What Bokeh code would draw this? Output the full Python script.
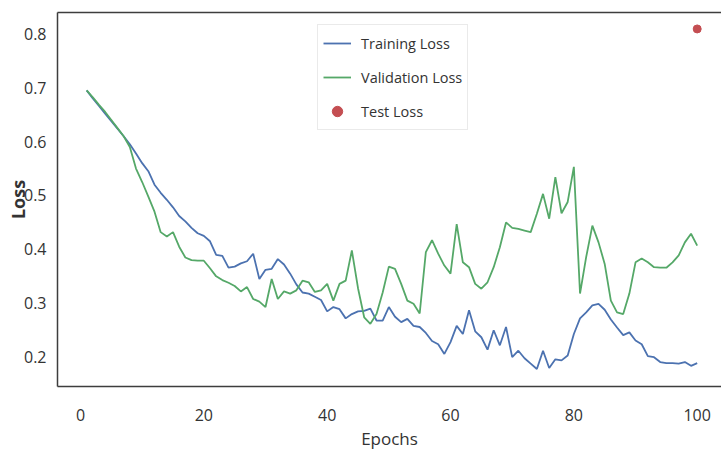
import numpy as np
from bokeh.plotting import figure
from bokeh.models import Range1d, FixedTicker, LinearAxis, Legend, LegendItem
from bokeh.embed import file_html
from bokeh.resources import INLINE

# ---------------- data ----------------
epochs = list(range(1, 101))

training_loss = [
    0.695, 0.680, 0.666, 0.652, 0.638, 0.624, 0.610, 0.595, 0.578, 0.560,
    0.545, 0.520, 0.505, 0.492, 0.478, 0.462, 0.452, 0.440, 0.430, 0.425,
    0.415, 0.390, 0.388, 0.366, 0.368, 0.374, 0.378, 0.392, 0.345, 0.362,
    0.364, 0.382, 0.372, 0.355, 0.335, 0.320, 0.318, 0.312, 0.306, 0.285,
    0.293, 0.289, 0.272, 0.280, 0.285, 0.286, 0.290, 0.268, 0.268, 0.293,
    0.275, 0.265, 0.271, 0.258, 0.256, 0.245, 0.230, 0.224, 0.206, 0.228,
    0.258, 0.243, 0.287, 0.248, 0.237, 0.214, 0.250, 0.222, 0.256, 0.200,
    0.212, 0.198, 0.188, 0.178, 0.212, 0.180, 0.196, 0.194, 0.203, 0.243,
    0.272, 0.283, 0.296, 0.299, 0.288, 0.270, 0.255, 0.241, 0.246, 0.231,
    0.224, 0.202, 0.200, 0.191, 0.189, 0.189, 0.188, 0.191, 0.184, 0.189,
]

validation_loss = [
    0.695, 0.682, 0.668, 0.655, 0.640, 0.625, 0.610, 0.590, 0.550, 0.525,
    0.498, 0.470, 0.432, 0.424, 0.432, 0.405, 0.385, 0.380, 0.379, 0.379,
    0.365, 0.350, 0.343, 0.338, 0.332, 0.322, 0.330, 0.308, 0.303, 0.293,
    0.345, 0.308, 0.322, 0.318, 0.324, 0.342, 0.339, 0.321, 0.324, 0.336,
    0.305, 0.336, 0.342, 0.398, 0.328, 0.274, 0.262, 0.280, 0.320, 0.368,
    0.364, 0.336, 0.305, 0.299, 0.281, 0.395, 0.417, 0.392, 0.370, 0.355,
    0.447, 0.376, 0.367, 0.336, 0.327, 0.339, 0.367, 0.404, 0.450, 0.440,
    0.438, 0.435, 0.432, 0.466, 0.503, 0.457, 0.534, 0.467, 0.488, 0.553,
    0.318, 0.386, 0.444, 0.413, 0.373, 0.305, 0.283, 0.280, 0.318, 0.376,
    0.383, 0.376, 0.367, 0.366, 0.366, 0.376, 0.389, 0.413, 0.429, 0.407,
]

test_epoch = [100]
test_loss = [0.809]

x_ticks = [0, 20, 40, 60, 80, 100]
y_ticks = [0.2, 0.3, 0.4, 0.5, 0.6, 0.7, 0.8]

# ---------------- figure ----------------
FONT = "Open Sans"
TXT = "#333333"
SPINE = "#3d3d3d"

p = figure(width=721, height=457, output_backend="svg", toolbar_location=None,
           x_range=Range1d(-3.73, 103.94), y_range=Range1d(0.1456, 0.8395),
           min_border_left=57, min_border_right=0, min_border_top=12,
           min_border_bottom=71)
p.outline_line_color = None
p.xgrid.grid_line_color = None
p.ygrid.grid_line_color = None
p.background_fill_color = "white"

p.xaxis.ticker = FixedTicker(ticks=x_ticks)
p.yaxis.ticker = FixedTicker(ticks=y_ticks)

for ax in (p.xaxis[0], p.yaxis[0]):
    ax.major_tick_line_color = None
    ax.minor_tick_line_color = None
    ax.major_tick_out = 0
    ax.minor_tick_out = 0
    ax.major_tick_in = 0
    ax.minor_tick_in = 0
    ax.axis_line_color = SPINE
    ax.axis_line_width = 1.5
    ax.major_label_text_font = FONT
    ax.major_label_text_font_size = "16px"
    ax.major_label_text_color = TXT

p.xaxis.major_label_standoff = 22
p.yaxis.major_label_standoff = 11

p.xaxis.axis_label = "Epochs"
p.xaxis.axis_label_text_font = FONT
p.xaxis.axis_label_text_font_size = "17px"
p.xaxis.axis_label_text_font_style = "normal"
p.xaxis.axis_label_text_color = TXT
p.xaxis.axis_label_standoff = 3

p.yaxis.axis_label = "Loss"
p.yaxis.axis_label_text_font = FONT
p.yaxis.axis_label_text_font_size = "18px"
p.yaxis.axis_label_text_font_style = "bold"
p.yaxis.axis_label_text_color = TXT
p.yaxis.axis_label_standoff = -9

# top spine
top = LinearAxis(ticker=FixedTicker(ticks=[]), major_tick_out=0, major_tick_in=0,
                 minor_tick_out=0, minor_tick_in=0, major_label_standoff=0,
                 axis_label_standoff=0, axis_line_color=SPINE, axis_line_width=1.5,
                 major_label_text_font_size="0px")
p.add_layout(top, "above")

# ---------------- data glyphs ----------------
r1 = p.line(epochs, training_loss, line_color="#4C72B0", line_width=1.8)
r2 = p.line(epochs, validation_loss, line_color="#55A868", line_width=1.8)
r3 = p.scatter(test_epoch, test_loss, size=8, fill_color="#C44E52",
               line_color="#C44E52")

legend = Legend(items=[LegendItem(label="Training Loss", renderers=[r1]),
                       LegendItem(label="Validation Loss", renderers=[r2]),
                       LegendItem(label="Test Loss", renderers=[r3])],
                location=(260, 256))
legend.label_text_font = FONT
legend.label_text_font_size = "14.5px"
legend.label_text_color = TXT
legend.glyph_width = 28
legend.glyph_height = 26
legend.label_height = 26
legend.spacing = 8
legend.padding = 5
legend.margin = 0
legend.label_standoff = 10
legend.border_line_color = "#d5d5d5"
legend.border_line_width = 1
legend.background_fill_color = "white"
legend.background_fill_alpha = 1.0
p.add_layout(legend)

open("out.html", "w").write(file_html(p, INLINE))
